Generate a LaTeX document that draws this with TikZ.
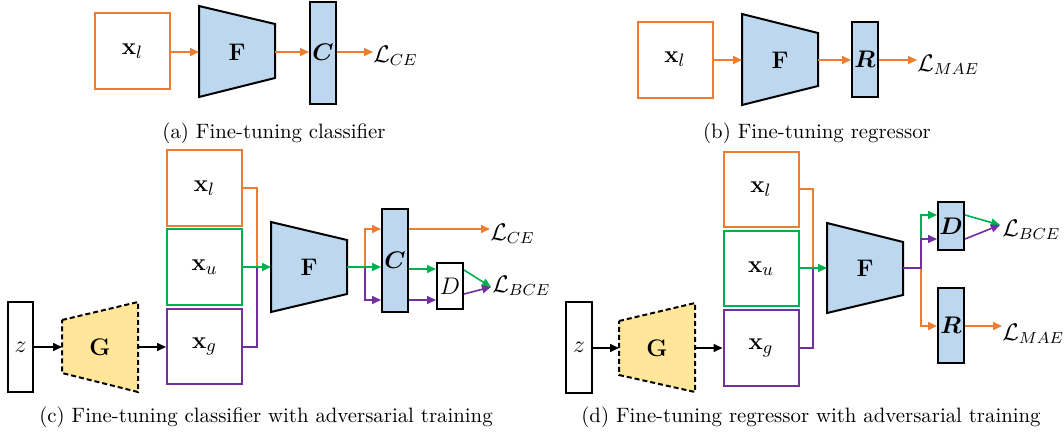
\documentclass[tikz,border=0pt]{standalone}
\usepackage{amsmath}
\usetikzlibrary{arrows.meta}
\definecolor{myorange}{HTML}{ED7D31}
\definecolor{mygreen}{HTML}{00B050}
\definecolor{mypurple}{HTML}{7030A0}
\definecolor{myblue}{HTML}{BDD7EE}
\definecolor{myyellow}{HTML}{FFE699}
\tikzset{
  inbox/.style={draw, line width=1pt, minimum width=37.5pt, minimum height=38pt, inner sep=0pt, font=\fontsize{13}{15}\selectfont},
  blk/.style={draw, fill=myblue, line width=1pt, minimum width=13pt, inner sep=0pt, font=\fontsize{13}{15}\selectfont},
  trapf/.style={draw, fill=myblue, line width=1pt, line join=miter},
  trapg/.style={draw, fill=myyellow, line width=1pt, dash pattern=on 2.5pt off 1.5pt},
  lbl/.style={inner sep=0pt, font=\fontsize{13}{15}\selectfont},
  conn/.style={line width=0.8pt, -{Triangle[length=4.5pt,width=4pt]}},
  seg/.style={line width=0.8pt},
  loss/.style={anchor=base west, inner sep=0pt, font=\fontsize{11.5}{13}\selectfont},
  capt/.style={anchor=base, inner sep=0pt, font=\fontsize{10.4}{12}\selectfont}
}
\begin{document}
\begin{tikzpicture}[x=0.5pt,y=-0.5pt]
\useasboundingbox (0,0) rectangle (1064,439);

% ---------------- (a) ----------------
\node[inbox, draw=myorange] (xla) at (132.5,51) {$\mathbf{x}_{l}$};
\draw[trapf] (199,6) -- (275,24) -- (275,78) -- (199,97) -- cycle;
\node[lbl] (Fa) at (237,52) {$\mathbf{F}$};
\coordinate (Fa-in) at (199,52);
\coordinate (Fa-out) at (275,52);
\node[blk, minimum height=51pt] (Ca) at (323,52.5) {$\boldsymbol{C}$};
\node[loss] (La) at (373,62) {$\mathcal{L}_{CE}$};
\draw[conn, myorange] (xla.east |- Fa-in) -- (Fa-in);
\draw[conn, myorange] (Fa-out) -- (Ca.west |- Fa-out);
\draw[conn, myorange] (Ca.east |- Fa-out) -- (La.west |- Fa-out);
\node[capt] (capa) at (274,138) {(a) Fine-tuning classifier};

% ---------------- (b) ----------------
\node[inbox, draw=myorange] (xlb) at (675,59.5) {$\mathbf{x}_{l}$};
\draw[trapf] (742,14) -- (818,33) -- (818,86) -- (742,105) -- cycle;
\node[lbl] (Fb) at (780,60) {$\mathbf{F}$};
\coordinate (Fb-in) at (742,60);
\coordinate (Fb-out) at (818,60);
\node[blk, minimum height=37.5pt] (Rb) at (865,59.5) {$\boldsymbol{R}$};
\node[loss] (Lb) at (917,71) {$\mathcal{L}_{MAE}$};
\draw[conn, myorange] (xlb.east |- Fb-in) -- (Fb-in);
\draw[conn, myorange] (Fb-out) -- (Rb.west |- Fb-out);
\draw[conn, myorange] (Rb.east |- Fb-out) -- (Lb.west |- Fb-out);
\node[capt] (capb) at (817,138) {(b) Fine-tuning regressor};

% ---------------- (c) ----------------
\node[inbox, minimum width=12.5pt, minimum height=45pt] (zc) at (20.5,347) {$z$};
\draw[trapg] (62,320) -- (138,302) -- (138,392) -- (62,373) -- cycle;
\node[lbl] (Gc) at (100,347) {$\mathbf{G}$};
\coordinate (Gc-in) at (62,347);
\coordinate (Gc-out) at (138,347);
\node[inbox, draw=myorange] (xlc) at (204.5,188) {$\mathbf{x}_{l}$};
\node[inbox, draw=mygreen] (xuc) at (204.5,267) {$\mathbf{x}_{u}$};
\node[inbox, draw=mypurple, minimum height=37.5pt] (xgc) at (204.5,346.5) {$\mathbf{x}_{g}$};
\draw[conn] (zc.east |- Gc-in) -- (Gc-in);
\draw[conn] (Gc-out) -- (xgc.west |- Gc-out);
\draw[trapf] (271,222) -- (347,240) -- (347,294) -- (271,312) -- cycle;
\node[lbl] (Fc) at (309,267) {$\mathbf{F}$};
\coordinate (Fc-in) at (271,267);
\coordinate (Fc-out) at (347,267);
\coordinate (busc) at (257,267);
\draw[seg, myorange] (xlc.east) -| (busc);
\draw[seg, mypurple] (xgc.east |- Gc-in) -| (busc);
\draw[conn, mygreen] (xuc.east |- Fc-in) -- (Fc-in);
\node[blk, minimum height=51.5pt] (Cc) at (395,260.5) {$\boldsymbol{C}$};
\coordinate (brc) at (365,267);
\draw[conn, mypurple] (Fc-out) -- (brc) |- (Cc.west |- 0,300);
\draw[conn, myorange] (Fc-out) -- (brc) |- (Cc.west |- 0,229);
\draw[conn, mygreen] (Fc-out) -- (Cc.west |- Fc-out);
\node[inbox, minimum width=13pt, minimum height=23pt] (Dc) at (450,286) {$D$};
\draw[conn, mygreen] (Cc.east |- 0,269) -- (Dc.west |- 0,269);
\draw[conn, mypurple] (Cc.east |- 0,300) -- (Dc.west |- 0,300);
\node[loss] (Lcc) at (490,240) {$\mathcal{L}_{CE}$};
\node[loss] (Lbc) at (492,292) {$\mathcal{L}_{BCE}$};
\draw[conn, myorange] (Cc.east |- 0,229) -- (Lcc.west |- 0,229);
\coordinate (Lbc-tip) at (491,287);
\draw[conn, mygreen] (Dc.east |- 0,270) -- (Lbc-tip);
\draw[conn, mypurple] (Dc.east |- 0,294) -- (Lbc-tip);
\node[capt] (capc) at (266,422) {(c) Fine-tuning classifier with adversarial training};

% ---------------- (d) ----------------
\node[inbox, minimum width=13pt, minimum height=45.5pt] (zd) at (579,347.5) {$z$};
\draw[trapg] (619,321) -- (695,303) -- (695,392) -- (619,375) -- cycle;
\node[lbl] (Gd) at (657,348) {$\mathbf{G}$};
\coordinate (Gd-in) at (619,348);
\coordinate (Gd-out) at (695,348);
\node[inbox, draw=myorange, minimum height=37.5pt] (xld) at (761,189.5) {$\mathbf{x}_{l}$};
\node[inbox, draw=mygreen, minimum height=37.5pt] (xud) at (761,268.5) {$\mathbf{x}_{u}$};
\node[inbox, draw=mypurple] (xgd) at (761,348) {$\mathbf{x}_{g}$};
\draw[conn] (zd.east |- Gd-in) -- (Gd-in);
\draw[conn] (Gd-out) -- (xgd.west |- Gd-out);
\draw[trapf] (827,223) -- (903,242) -- (903,295) -- (827,313) -- cycle;
\node[lbl] (Fd) at (865,268) {$\mathbf{F}$};
\coordinate (Fd-in) at (827,268);
\coordinate (Fd-out) at (903,268);
\coordinate (busd) at (813,268);
\draw[seg, myorange] (xld.east |- 0,189) -| (busd);
\draw[seg, mypurple] (xgd.east) -| (busd);
\draw[conn, mygreen] (xud.east |- Fd-in) -- (Fd-in);
\node[blk, minimum height=24pt] (Dd) at (951,226) {$\boldsymbol{D}$};
\node[blk, minimum height=37.5pt] (Rd) at (951,325.5) {$\boldsymbol{R}$};
\coordinate (brd) at (921,268);
\draw[conn, myorange] (Fd-out) -- (brd) |- (Rd.west |- 0,326);
\draw[conn, mygreen] (brd |- 0,239) |- (Dd.west |- 0,215);
\draw[conn, mypurple] (Fd-out) -- (brd) |- (Dd.west |- 0,239);
\node[loss] (Lbd) at (1002,236) {$\mathcal{L}_{BCE}$};
\node[loss] (Lmd) at (1002,340) {$\mathcal{L}_{MAE}$};
\coordinate (Lbd-tip) at (1000,225);
\draw[conn, mygreen] (Dd.east |- 0,215) -- (Lbd-tip);
\draw[conn, mypurple] (Dd.east |- 0,239) -- (Lbd-tip);
\draw[conn, myorange] (Rd.east |- 0,326) -- (Lmd.west |- 0,326);
\node[capt] (capd) at (811,422) {(d) Fine-tuning regressor with adversarial training};
\end{tikzpicture}
\end{document}
